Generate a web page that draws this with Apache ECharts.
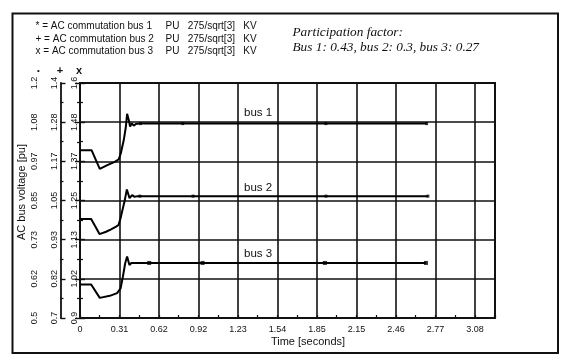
<!DOCTYPE html>
<html><head><meta charset="utf-8">
<script src="https://cdn.jsdelivr.net/npm/echarts@6/dist/echarts.min.js"></script>
<style>html,body{margin:0;padding:0;background:#fff}#c{width:563px;height:361px}</style>
</head><body><div id="c"></div>
<script>
// ---- data ----
const xTickLabels = ['0','0.31','0.62','0.92','1.23','1.54','1.85','2.15','2.46','2.77','3.08'];
const y1TickLabels = ['0.5','0.62','0.73','0.85','0.97','1.08','1.2'];
const y2TickLabels = ['0.7','0.82','0.93','1.05','1.17','1.28','1.4'];
const y3TickLabels = ['0.9','1.02','1.13','1.25','1.37','1.48','1.6'];

const bus1Time = [0, 0.09, 0.154, 0.217, 0.271, 0.302, 0.318, 0.341, 0.357, 0.367, 0.380, 0.390, 0.404, 0.419, 0.435, 0.46, 2.70];
const bus1Volt = [1.000, 1.000, 0.944, 0.956, 0.965, 0.973, 0.991, 1.030, 1.069, 1.108, 1.090, 1.070, 1.080, 1.073, 1.078, 1.079, 1.079];

const bus2Time = [0, 0.087, 0.152, 0.203, 0.242, 0.281, 0.300, 0.316, 0.328, 0.349, 0.365, 0.386, 0.406, 0.425, 0.45, 2.71];
const bus2Volt = [0.995, 0.995, 0.950, 0.957, 0.964, 0.972, 0.977, 0.997, 1.017, 1.051, 1.083, 1.057, 1.066, 1.061, 1.063, 1.063];

const bus3Time = [0, 0.087, 0.154, 0.232, 0.289, 0.316, 0.334, 0.352, 0.367, 0.385, 0.40, 2.695];
const bus3Volt = [1.000, 1.000, 0.960, 0.966, 0.974, 0.988, 1.023, 1.063, 1.083, 1.058, 1.064, 1.064];

const bus1MarkTime = [0.47, 0.80, 1.915, 2.70];
const bus1MarkVolt = [1.079, 1.079, 1.079, 1.079];
const bus2MarkTime = [0.466, 0.881, 1.916, 2.71];
const bus2MarkVolt = [1.063, 1.063, 1.063, 1.063];
const bus3MarkTime = [0.539, 0.955, 1.908, 2.695];
const bus3MarkVolt = [1.064, 1.064, 1.064, 1.064];

const xMin = 0, xMax = 3.233, xInterval = 4 / 13;
const yRanges = [[0.5, 1.2], [0.7, 1.4], [0.9, 1.6]];

// ---- chart ----
const zip = (a, b) => a.map((t, i) => [t, b[i]]);
const SANS = '"Liberation Sans", Arial, sans-serif';
const INK = '#111';

function yAxis(idx, labels, offset, inside) {
  const [mn, mx] = yRanges[idx];
  return {
    type: 'value', position: 'left', offset: offset,
    min: mn, max: mx, interval: (mx - mn) / 6,
    axisLine: { show: true, lineStyle: { color: INK, width: 1.8 } },
    axisTick: { show: true, inside: inside, length: 5, lineStyle: { color: INK, width: 1.4 } },
    minorTick: { show: true, splitNumber: 2, length: 3, lineStyle: { color: INK, width: 1.2 } },
    axisLabel: { rotate: 90, margin: 1, fontSize: 9, color: INK, fontFamily: SANS,
      formatter: (v, i) => labels[i] },
    splitLine: { show: idx === 2, lineStyle: { color: INK, width: 1.6 } }
  };
}

const chart = echarts.init(document.getElementById('c'), null, { renderer: 'canvas' });

const lineSeries = (t, v, ax) => ({
  type: 'line', yAxisIndex: ax, data: zip(t, v), showSymbol: false, symbol: 'none',
  lineStyle: { color: '#000', width: 2 }, z: 5, silent: true
});
const markSeries = (t, v, ax, size) => ({
  type: 'scatter', yAxisIndex: ax, data: zip(t, v), symbol: 'rect', symbolSize: size,
  itemStyle: { color: '#000' }, z: 6, silent: true
});

chart.setOption({
  animation: false,
  backgroundColor: '#fff',
  grid: { left: 80, right: 68, top: 83, bottom: 43, show: true, borderColor: INK, borderWidth: 2, backgroundColor: 'transparent' },
  xAxis: {
    type: 'value', min: xMin, max: xMax, interval: xInterval,
    axisLine: { show: true, lineStyle: { color: INK, width: 2 } },
    axisTick: { show: true, inside: true, length: 3, lineStyle: { color: INK, width: 1.2 } },
    minorTick: { show: true, splitNumber: 2, length: 3, lineStyle: { color: INK, width: 1.2 } },
    axisLabel: { fontSize: 9, color: INK, margin: 7, fontFamily: SANS,
      formatter: (v, i) => xTickLabels[i] },
    splitLine: { show: true, lineStyle: { color: INK, width: 1.6 } }
  },
  yAxis: [yAxis(0, y1TickLabels, 40, true), yAxis(1, y2TickLabels, 19.5, true), yAxis(2, y3TickLabels, 0, false)],
  series: [
    lineSeries(bus1Time, bus1Volt, 0),
    lineSeries(bus2Time, bus2Volt, 1),
    lineSeries(bus3Time, bus3Volt, 2),
    markSeries(bus1MarkTime, bus1MarkVolt, 0, 3),
    markSeries(bus2MarkTime, bus2MarkVolt, 1, 3),
    markSeries(bus3MarkTime, bus3MarkVolt, 2, 4)
  ],
  graphic: [
    { type: 'rect', shape: { x: 12.5, y: 13.5, width: 545.5, height: 339.5 }, style: { fill: 'none', stroke: INK, lineWidth: 2 }, silent: true },
    { type: 'text', x: 35.5, y: 26, style: { text: '* = AC commutation bus 1', font: '10px ' + SANS, fill: INK, verticalAlign: 'middle' } },
    { type: 'text', x: 35.5, y: 39.2, style: { text: '+ = AC commutation bus 2', font: '10px ' + SANS, fill: INK, verticalAlign: 'middle' } },
    { type: 'text', x: 35.5, y: 51.6, style: { text: 'x = AC commutation bus 3', font: '10px ' + SANS, fill: INK, verticalAlign: 'middle' } },
    { type: 'text', x: 165.5, y: 26, style: { text: 'PU   275/sqrt[3]   KV', font: '10px ' + SANS, fill: INK, verticalAlign: 'middle' } },
    { type: 'text', x: 165.5, y: 39.2, style: { text: 'PU   275/sqrt[3]   KV', font: '10px ' + SANS, fill: INK, verticalAlign: 'middle' } },
    { type: 'text', x: 165.5, y: 51.6, style: { text: 'PU   275/sqrt[3]   KV', font: '10px ' + SANS, fill: INK, verticalAlign: 'middle' } },
    { type: 'text', x: 38.5, y: 70.5, style: { text: '•', font: '8px ' + SANS, fill: INK, align: 'center', verticalAlign: 'middle' } },
    { type: 'text', x: 60, y: 70.5, style: { text: '+', font: 'bold 11px ' + SANS, fill: INK, align: 'center', verticalAlign: 'middle' } },
    { type: 'text', x: 79, y: 70.5, style: { text: 'x', font: 'bold 11px ' + SANS, fill: INK, align: 'center', verticalAlign: 'middle' } },
    { type: 'text', x: 21.5, y: 192, rotation: Math.PI / 2, style: { text: 'AC bus voltage [pu]', font: '11px ' + SANS, fill: INK, align: 'center', verticalAlign: 'middle' } },
    { type: 'text', x: 292.5, y: 32.3, style: { text: 'Participation factor:', font: 'italic 13.3px "Liberation Serif", "Times New Roman", serif', fill: INK, verticalAlign: 'middle' } },
    { type: 'text', x: 292.5, y: 47.7, style: { text: 'Bus 1: 0.43, bus 2: 0.3, bus 3: 0.27', font: 'italic 13.3px "Liberation Serif", "Times New Roman", serif', fill: INK, verticalAlign: 'middle' } },
    { type: 'text', x: 244, y: 113, z: 10, style: { text: 'bus 1', font: '11.5px ' + SANS, fill: INK, verticalAlign: 'middle' } },
    { type: 'text', x: 244, y: 187.7, z: 10, style: { text: 'bus 2', font: '11.5px ' + SANS, fill: INK, verticalAlign: 'middle' } },
    { type: 'text', x: 244, y: 253.5, z: 10, style: { text: 'bus 3', font: '11.5px ' + SANS, fill: INK, verticalAlign: 'middle' } },
    { type: 'text', x: 308, y: 341.7, style: { text: 'Time [seconds]', font: '11px ' + SANS, fill: INK, align: 'center', verticalAlign: 'middle' } }
  ]
});
</script>
</body></html>
